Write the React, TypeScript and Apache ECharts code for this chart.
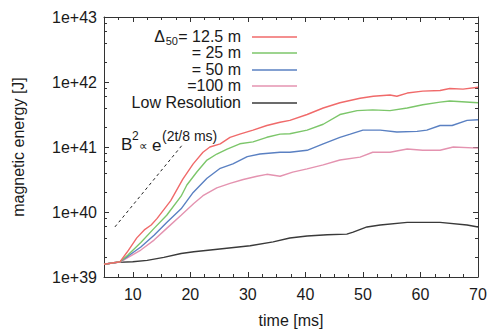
import React, { useEffect, useRef } from "react";
import * as echarts from "echarts";

// ---- data ----
const xTickLabels = [10, 20, 30, 40, 50, 60, 70];
const yTickLabels = ["1e+39", "1e+40", "1e+41", "1e+42", "1e+43"];
const yMinorTicks = [
  2e39, 4e39, 6e39, 8e39, 2e40, 4e40, 6e40, 8e40,
  2e41, 4e41, 6e41, 8e41, 2e42, 4e42, 6e42, 8e42,
];
const seriesNames = ["Δ50 = 12.5 m", "Δ50 = 25 m", "Δ50 = 50 m", "Δ50 = 100 m", "Low Resolution"];
const legendLabels = ["= 12.5 m", "= 25 m", "= 50 m", "=100 m", "Low Resolution"];
const seriesColors = ["#f06a6a", "#7cc66a", "#5a80c2", "#e493b0", "#3a3a3a"];

const res125 = [
  [5, 1.57e39], [7.8, 1.72e39], [9.0, 2.4e39], [10.7, 4.0e39], [12.0, 5.3e39],
  [13.2, 6.3e39], [14.2, 7.9e39], [16.6, 1.5e40], [18.7, 3.2e40], [20.5, 5.5e40],
  [22.2, 8.3e40], [23.4, 1.0e41], [25.2, 1.12e41], [26.9, 1.41e41], [28.6, 1.58e41],
  [30.9, 1.82e41], [33.3, 2.14e41], [35.6, 2.4e41], [37.3, 2.57e41], [40.3, 3.16e41],
  [43.1, 3.98e41], [46.0, 4.79e41], [49.5, 5.62e41], [51.8, 6.03e41], [54.7, 6.31e41],
  [55.9, 6.03e41], [57.7, 6.76e41], [60.4, 7.24e41], [63.4, 7.41e41], [65.1, 7.94e41],
  [67.4, 7.76e41], [70, 8.3e41],
];
const res25 = [
  [5, 1.57e39], [7.8, 1.72e39], [9.2, 2.2e39], [11.4, 3.4e39], [13.7, 5.6e39],
  [15.9, 8.9e39], [18.4, 1.75e40], [19.4, 2.6e40], [21.2, 4.2e40], [22.9, 6.3e40],
  [24.6, 7.8e40], [26.4, 9.3e40], [28.6, 1.12e41], [30.9, 1.2e41], [33.3, 1.41e41],
  [35.6, 1.58e41], [37.3, 1.6e41], [40.3, 1.82e41], [43.1, 2.24e41], [46.0, 3.16e41],
  [49.0, 3.63e41], [51.7, 3.72e41], [54.7, 3.63e41], [57.7, 3.98e41], [60.4, 4.47e41],
  [63.4, 4.9e41], [65.1, 5.1e41], [70, 4.79e41],
];
const res50 = [
  [5, 1.57e39], [7.8, 1.72e39], [9.2, 2.1e39], [11.4, 2.9e39], [13.7, 4.4e39],
  [15.9, 6.9e39], [18.4, 1.12e40], [20.5, 2.0e40], [22.9, 3.3e40], [25.2, 4.7e40],
  [27.4, 5.5e40], [29.9, 7.1e40], [32.1, 7.8e40], [35.6, 8.3e40], [37.3, 8.3e40],
  [40.3, 8.9e40], [43.1, 1.12e41], [46.0, 1.41e41], [47.8, 1.58e41], [50.0, 1.82e41],
  [53.0, 1.82e41], [55.9, 1.7e41], [59.4, 1.74e41], [61.1, 1.82e41], [63.4, 2.14e41],
  [65.5, 2.14e41], [68.1, 2.57e41], [70, 2.63e41],
];
const res100 = [
  [5, 1.57e39], [7.8, 1.7e39], [9.2, 2.0e39], [11.4, 2.6e39], [13.7, 3.7e39],
  [15.9, 5.6e39], [18.4, 8.9e39], [20.6, 1.35e40], [22.2, 1.78e40], [24.6, 2.35e40],
  [26.9, 2.75e40], [29.2, 3.16e40], [31.6, 3.55e40], [33.3, 3.8e40], [35.6, 3.55e40],
  [37.8, 4.1e40], [40.3, 4.6e40], [43.1, 5.3e40], [46.0, 6.3e40], [49.5, 7.0e40],
  [51.7, 8.3e40], [54.7, 8.3e40], [57.7, 9.3e40], [60.4, 8.9e40], [63.4, 8.9e40],
  [65.7, 1.0e41], [70, 9.6e40],
];
const lowRes = [
  [5, 1.57e39], [7.3, 1.68e39], [10.0, 1.72e39], [12.5, 1.8e39], [15.4, 2.0e39],
  [18.4, 2.3e39], [20.6, 2.45e39], [23.9, 2.63e39], [30.4, 3.02e39], [34.4, 3.47e39],
  [37.3, 3.98e39], [40.3, 4.27e39], [43.8, 4.47e39], [47.2, 4.57e39], [48.3, 4.9e39],
  [50.7, 5.89e39], [53.0, 6.31e39], [57.7, 6.92e39], [63.4, 6.92e39], [68.1, 6.31e39],
  [70, 5.89e39],
];
const slopeGuide = [[6.9, 5.9e39], [18.7, 1.1e41]];

const allSeries = [res125, res25, res50, res100, lowRes];

const FONT = "'Liberation Sans', Arial, Helvetica, sans-serif";
const TXT = "#1a1a1a";
const AX = "#333";

export default function App() {
  const ref = useRef<HTMLDivElement>(null);
  useEffect(() => {
    if (!ref.current) return;
    const chart = echarts.init(ref.current, undefined, { renderer: "svg" });

    const xMinor: number[] = [];
    for (let v = 7.5; v < 70; v += 2.5) {
      if (!xTickLabels.includes(v)) xMinor.push(v);
    }

    const xBase = { type: "value", min: 5, max: 70, splitLine: { show: false } };
    const yBase = { type: "log", logBase: 10, min: 1e39, max: 1e43, splitLine: { show: false } };

    const legendGraphics: any[] = [];
    const rowY = [36, 52, 69, 85, 102];
    legendLabels.forEach((lab, i) => {
      legendGraphics.push({
        type: "text",
        x: 241,
        y: rowY[i],
        style: { text: lab, font: `16px ${FONT}`, fill: TXT, align: "right", verticalAlign: "middle" },
      });
      legendGraphics.push({
        type: "line",
        shape: { x1: 252, y1: rowY[i] + 1, x2: 297, y2: rowY[i] + 1 },
        style: { stroke: seriesColors[i], lineWidth: 1.5 },
      });
    });
    legendGraphics.push(
      { type: "text", x: 178, y: 41, style: { text: "50", font: `11px ${FONT}`, fill: TXT, align: "right", verticalAlign: "middle" } },
      { type: "text", x: 165, y: 36, style: { text: "Δ", font: `16px ${FONT}`, fill: TXT, align: "right", verticalAlign: "middle" } },
      { type: "text", x: 121, y: 144, style: { text: "B", font: `17px ${FONT}`, fill: TXT, verticalAlign: "middle" } },
      { type: "text", x: 132, y: 136, style: { text: "2", font: `12px ${FONT}`, fill: TXT, verticalAlign: "middle" } },
      { type: "text", x: 139, y: 146, style: { text: "∝", font: `12px ${FONT}`, fill: TXT, verticalAlign: "middle" } },
      { type: "text", x: 152, y: 145, style: { text: "e", font: `17px ${FONT}`, fill: TXT, verticalAlign: "middle" } },
      { type: "text", x: 162, y: 136, style: { text: "(2t/8 ms)", font: `14px ${FONT}`, fill: TXT, verticalAlign: "middle" } }
    );

    const option: any = {
      animation: false,
      backgroundColor: "#fff",
      textStyle: { fontFamily: FONT },
      grid: { left: 104, right: 14, top: 17, bottom: 50, containLabel: false },
      xAxis: [
        {
          ...xBase,
          position: "bottom",
          name: "time [ms]",
          nameLocation: "middle",
          nameGap: 35,
          nameTextStyle: { fontSize: 16, color: TXT, fontFamily: FONT },
          axisLine: { show: true, lineStyle: { color: AX, width: 1 } },
          axisTick: { show: true, inside: true, length: 5, customValues: xTickLabels, lineStyle: { color: AX } },
          axisLabel: { show: true, customValues: xTickLabels, fontSize: 16, color: TXT, fontFamily: FONT, margin: 9 },
        },
        {
          ...xBase,
          position: "bottom",
          axisLine: { show: false },
          axisTick: { show: true, inside: true, length: 3, customValues: xMinor, lineStyle: { color: AX } },
          axisLabel: { show: false },
        },
        {
          ...xBase,
          position: "top",
          axisLine: { show: true, lineStyle: { color: AX, width: 1 } },
          axisTick: { show: true, inside: true, length: 5, customValues: xTickLabels, lineStyle: { color: AX } },
          axisLabel: { show: false },
        },
        {
          ...xBase,
          position: "top",
          axisLine: { show: false },
          axisTick: { show: true, inside: true, length: 3, customValues: xMinor, lineStyle: { color: AX } },
          axisLabel: { show: false },
        },
      ],
      yAxis: [
        {
          ...yBase,
          position: "left",
          name: "magnetic energy [J]",
          nameLocation: "middle",
          nameGap: 78,
          nameRotate: 90,
          nameTextStyle: { fontSize: 16, color: TXT, fontFamily: FONT },
          axisLine: { show: true, lineStyle: { color: AX, width: 1 } },
          axisTick: { show: true, inside: true, length: 5, lineStyle: { color: AX } },
          axisLabel: {
            show: true,
            fontSize: 16,
            color: TXT,
            fontFamily: FONT,
            margin: 7,
            formatter: (v: number) => yTickLabels[Math.round(Math.log10(v)) - 39] ?? "",
          },
        },
        {
          ...yBase,
          position: "left",
          axisLine: { show: false },
          axisTick: { show: true, inside: true, length: 3, customValues: yMinorTicks, lineStyle: { color: AX } },
          axisLabel: { show: false },
        },
        {
          ...yBase,
          position: "right",
          axisLine: { show: true, lineStyle: { color: AX, width: 1 } },
          axisTick: { show: true, inside: true, length: 5, lineStyle: { color: AX } },
          axisLabel: { show: false },
        },
        {
          ...yBase,
          position: "right",
          axisLine: { show: false },
          axisTick: { show: true, inside: true, length: 3, customValues: yMinorTicks, lineStyle: { color: AX } },
          axisLabel: { show: false },
        },
      ],
      series: [
        ...allSeries.map((d, i) => ({
          name: seriesNames[i],
          type: "line",
          data: d,
          xAxisIndex: 0,
          yAxisIndex: 0,
          showSymbol: false,
          symbol: "none",
          lineStyle: { color: seriesColors[i], width: 1.4 },
          z: 10 - i,
        })),
        {
          name: "B² ∝ e^(2t/8 ms)",
          type: "line",
          data: slopeGuide,
          xAxisIndex: 0,
          yAxisIndex: 0,
          showSymbol: false,
          symbol: "none",
          lineStyle: { color: "#222", width: 1, type: [3, 3] },
        },
      ],
      graphic: legendGraphics,
    };
    chart.setOption(option);
    return () => chart.dispose();
  }, []);

  return <div ref={ref} style={{ width: 492, height: 333, position: "absolute", left: 0, top: 0 }} />;
}
